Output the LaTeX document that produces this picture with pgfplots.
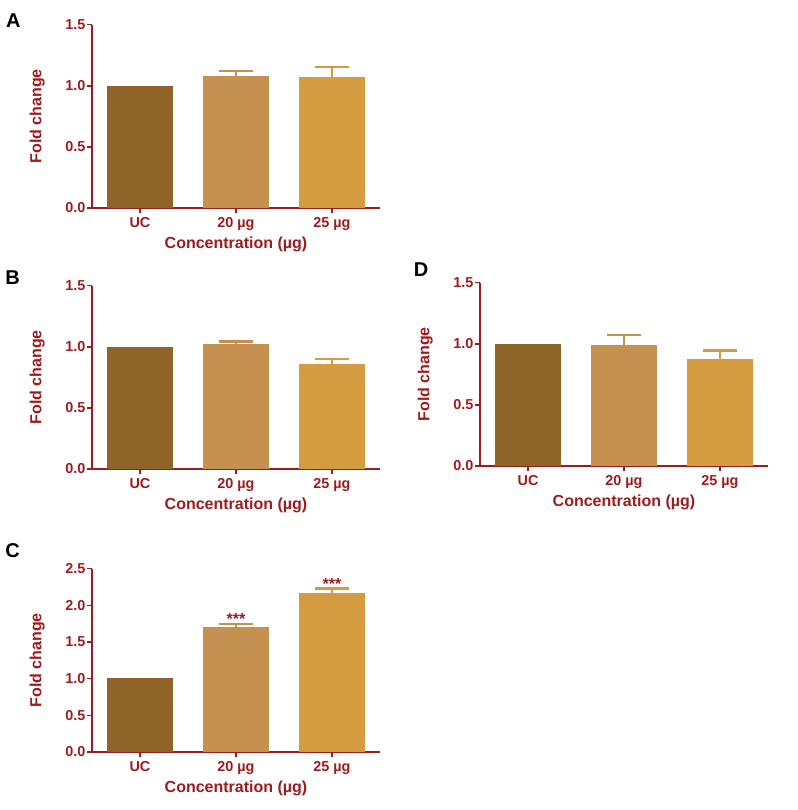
\documentclass[border=0pt]{standalone}
\usepackage{pgfplots}
\pgfplotsset{compat=1.18}
\usepackage{fontspec}
\setmainfont{Liberation Sans}

\definecolor{axred}{HTML}{9E1B1E}
\definecolor{cuc}{HTML}{8E6428}
\definecolor{c20}{HTML}{C59150}
\definecolor{c25}{HTML}{D59B40}

\pgfplotsset{
  panel/.style={
    width=216pt, height=137.5pt, scale only axis,
    axis lines=left,
    axis line style={-, draw=axred, line width=1.3pt},
    xmin=-0.5, xmax=2.5, ymin=0,
    xtick={0,1,2}, xticklabels={UC,20 µg,25 µg},
    tick align=outside, major tick length=3.75pt,
    tick style={draw=axred, line width=1.2pt},
    tick label style={font=\bfseries\fontsize{10.8}{12}\selectfont, text=axred},
    y tick label style={inner xsep=1pt, /pgf/number format/.cd, fixed, fixed zerofill, precision=1, assume math mode=true},
    ylabel={Fold change}, xlabel={Concentration (µg)},
    label style={font=\bfseries\fontsize{12}{14}\selectfont, text=axred},
    ylabel style={at={(axis description cs:-0.19,0.5)}, anchor=center},
    xlabel style={at={(axis description cs:0.5,-0.2)}, anchor=center},
    ybar, bar width=49.5pt, bar shift=0pt,
    clip=false,
  },
  ebar/.style={
    error bars/.cd, y dir=plus, y explicit,
    error bar style={line width=1.8pt, draw=#1},
    error mark options={rotate=90, mark size=12.75pt, line width=1.8pt, draw=#1},
  },
}

\begin{document}
\begin{tikzpicture}
\path[use as bounding box] (0,0) rectangle (598.5pt,607.5pt);

% A
\begin{axis}[panel, at={(69pt,451.5pt)}, anchor=south west, ymax=1.5, ytick={0,0.5,1,1.5}]
  \addplot[fill=cuc, draw=none] coordinates {(0,1.0)};
  \addplot[fill=c20, draw=none, ebar=c20] coordinates {(1,1.079) +- (0,0.041)};
  \addplot[fill=c25, draw=none, ebar=c25] coordinates {(2,1.068) +- (0,0.084)};
\end{axis}

% B
\begin{axis}[panel, at={(69pt,255.75pt)}, anchor=south west, ymax=1.5, ytick={0,0.5,1,1.5}]
  \addplot[fill=cuc, draw=none] coordinates {(0,1.0)};
  \addplot[fill=c20, draw=none, ebar=c20] coordinates {(1,1.024) +- (0,0.02)};
  \addplot[fill=c25, draw=none, ebar=c25] coordinates {(2,0.863) +- (0,0.035)};
\end{axis}

% D
\begin{axis}[panel, at={(360pt,258pt)}, anchor=south west, ymax=1.5, ytick={0,0.5,1,1.5}]
  \addplot[fill=cuc, draw=none] coordinates {(0,1.0)};
  \addplot[fill=c20, draw=none, ebar=c20] coordinates {(1,0.988) +- (0,0.082)};
  \addplot[fill=c25, draw=none, ebar=c25] coordinates {(2,0.874) +- (0,0.071)};
\end{axis}

% C
\begin{axis}[panel, at={(69pt,43.5pt)}, anchor=south west, ymax=2.5, ytick={0,0.5,1,1.5,2,2.5}]
  \addplot[fill=cuc, draw=none] coordinates {(0,1.01)};
  \addplot[fill=c20, draw=none, ebar=c20] coordinates {(1,1.70) +- (0,0.044)};
  \addplot[fill=c25, draw=none, ebar=c25] coordinates {(2,2.163) +- (0,0.064)};
  \node[text=axred, font=\bfseries\fontsize{12}{14}\selectfont] at (axis cs:1,1.81) {***};
  \node[text=axred, font=\bfseries\fontsize{12}{14}\selectfont] at (axis cs:2,2.29) {***};
\end{axis}

% panel letters
\node[font=\bfseries\fontsize{15}{17}\selectfont] at (10.1pt,591.75pt) {A};
\node[font=\bfseries\fontsize{15}{17}\selectfont] at (9.4pt,399pt) {B};
\node[font=\bfseries\fontsize{15}{17}\selectfont] at (315.75pt,405pt) {D};
\node[font=\bfseries\fontsize{15}{17}\selectfont] at (9.4pt,194.25pt) {C};
\end{tikzpicture}
\end{document}
